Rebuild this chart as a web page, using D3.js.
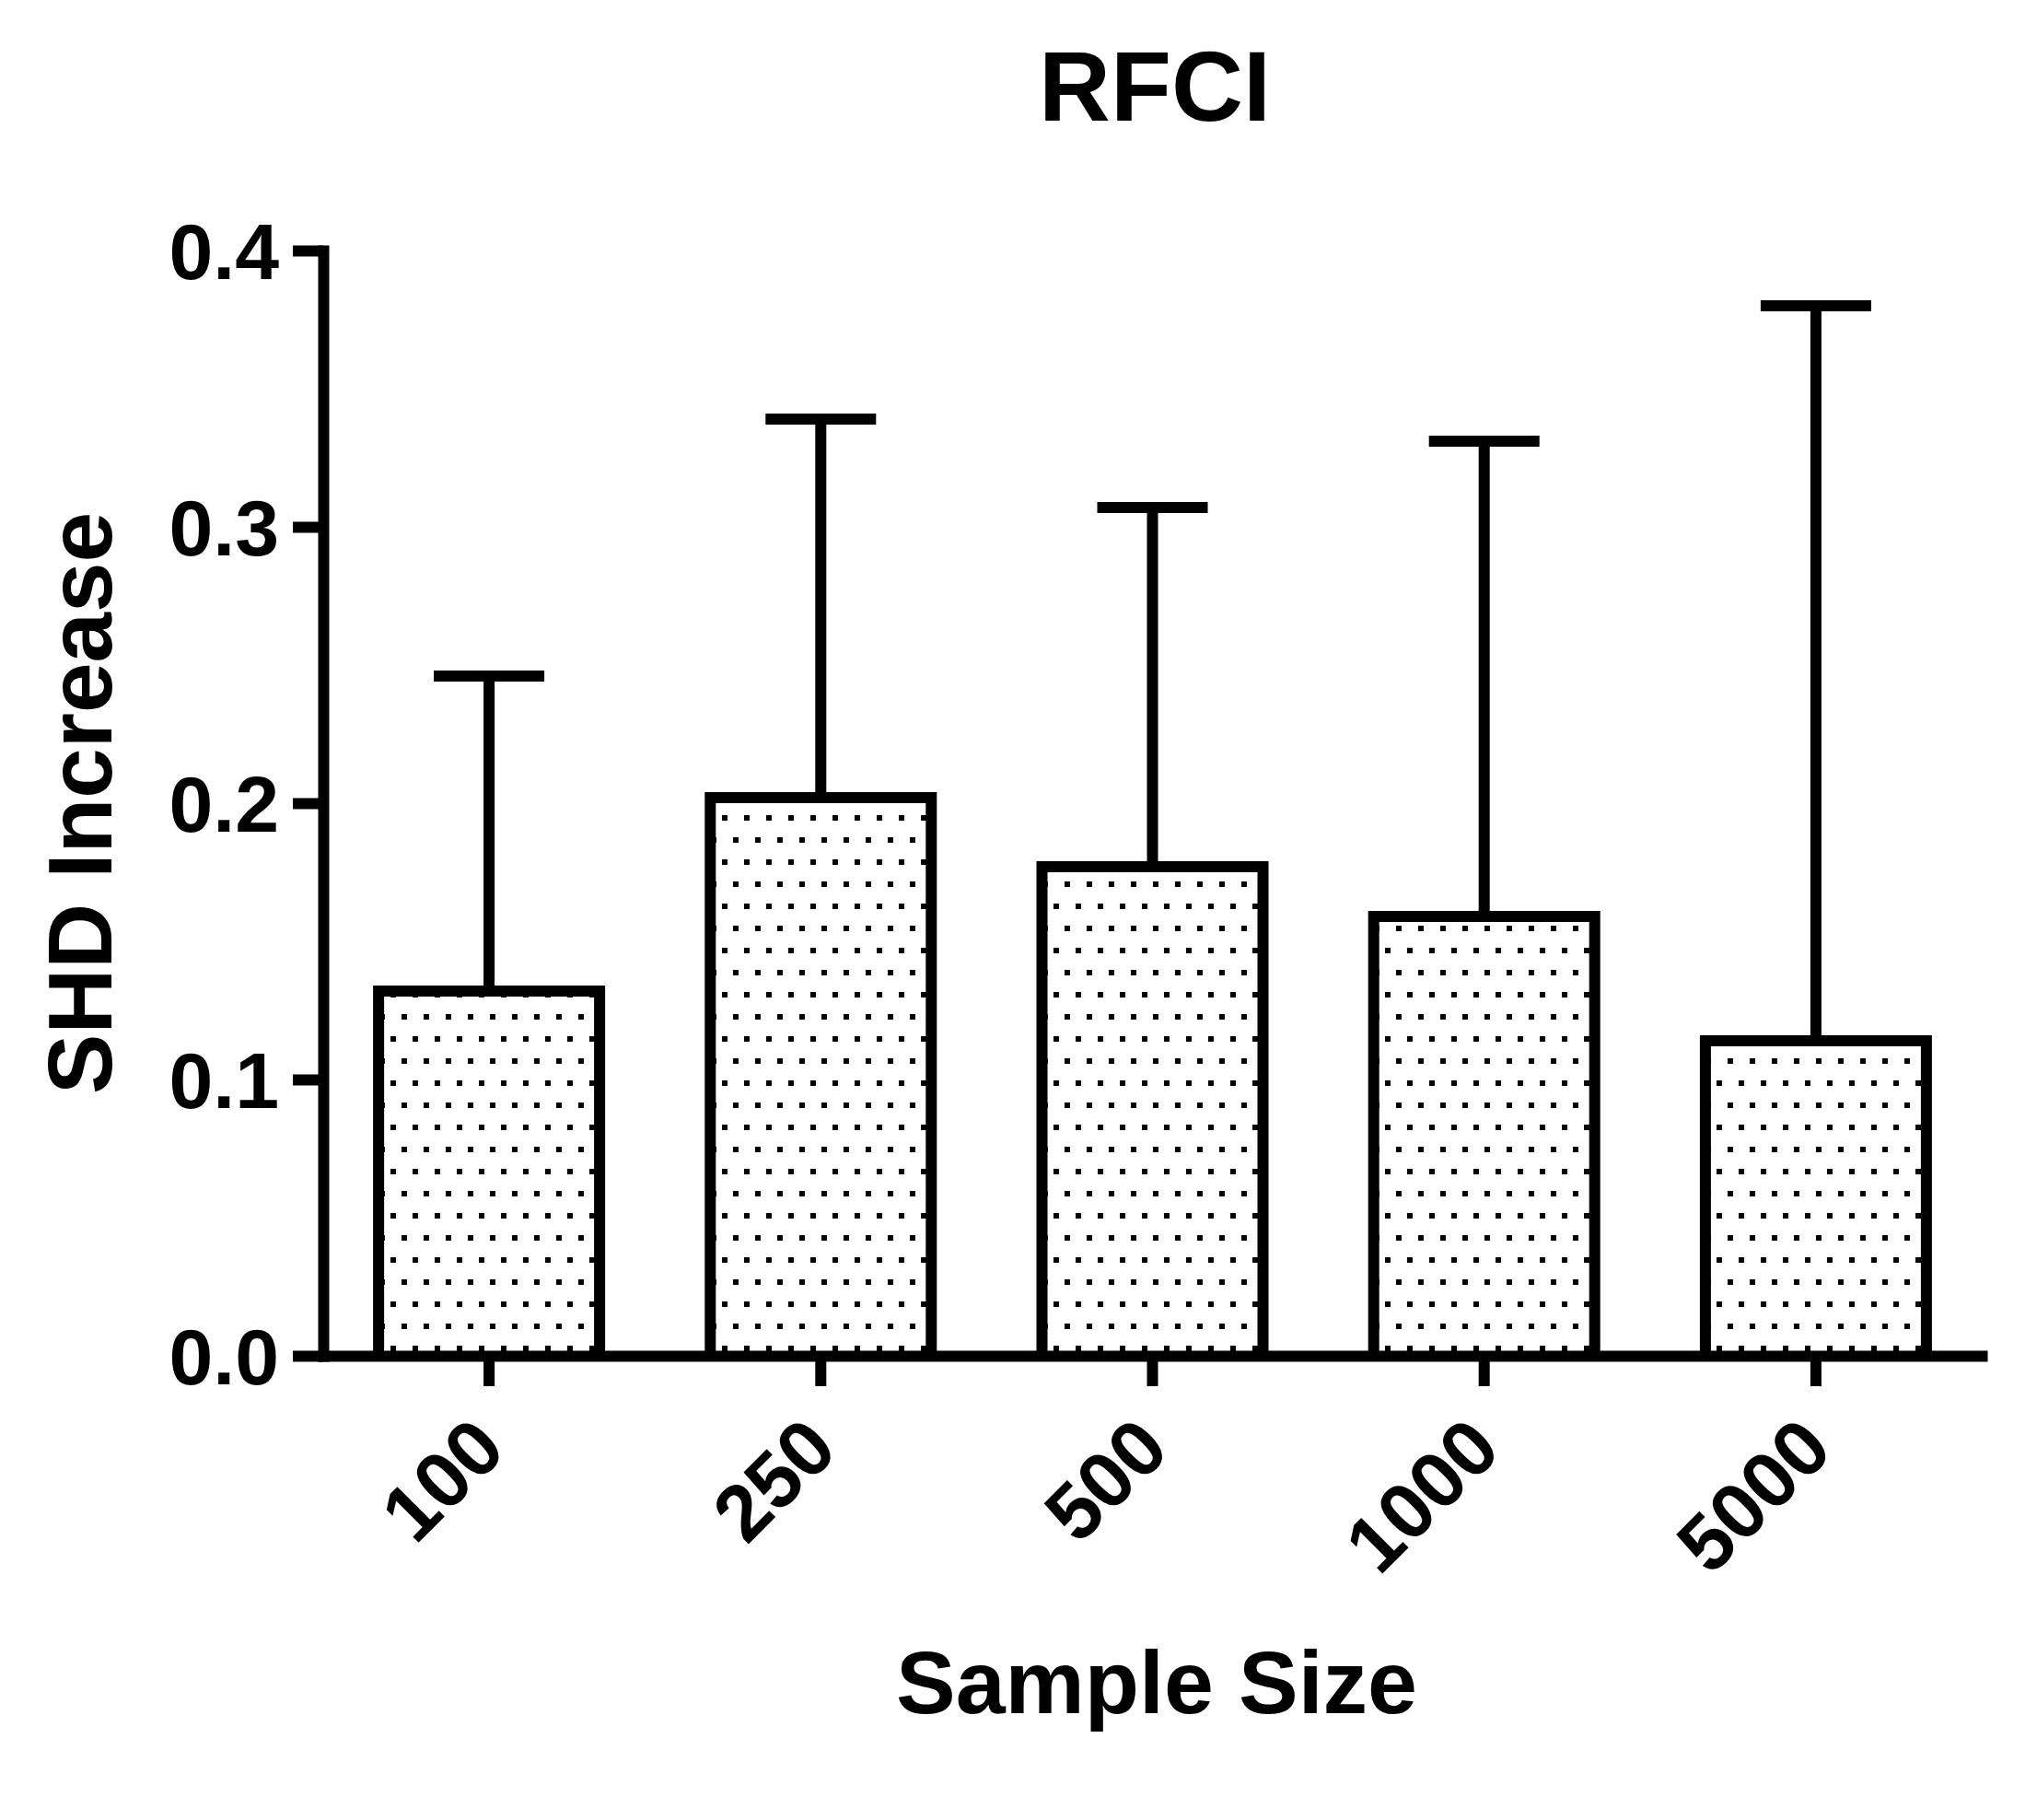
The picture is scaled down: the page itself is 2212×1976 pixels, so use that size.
<!DOCTYPE html>
<html>
<head>
<meta charset="utf-8">
<script src="https://cdn.jsdelivr.net/npm/d3@7"></script>
<style>
  body { margin: 0; background: #fff; }
  text { font-family: "Liberation Sans", Arial, sans-serif; font-weight: bold; fill: #000; }
</style>
</head>
<body>
<div id="chart"></div>
<script>
// RFCI bar chart, SHD increase per sample size (mean + upper SD bar)

const width = 2212;
const height = 1976;

const categories = ["100", "250", "500", "1000", "5000"];
const means = [0.132, 0.202, 0.177, 0.159, 0.114];
const upper = [0.246, 0.339, 0.307, 0.331, 0.380]; // top of error bar
const yTicks = [0.0, 0.1, 0.2, 0.3, 0.4];

const LINE = 12;
const BARW = 240;
const CAPW = 120;

const x = d3.scaleBand()
    .domain(categories)
    .range([351, 2152])
    .paddingInner(0.334)
    .paddingOuter(0.167);

const y = d3.scaleLinear()
    .domain([0, 0.4])
    .range([1472, 272]);

const svg = d3.select("#chart")
    .append("svg")
    .attr("width", width)
    .attr("height", height);

// dotted fill
const pat = svg.append("defs").append("pattern")
    .attr("id", "dots")
    .attr("patternUnits", "userSpaceOnUse")
    .attr("x", 436)
    .attr("y", 1437)
    .attr("width", 24)
    .attr("height", 48);
pat.append("rect").attr("x", 0).attr("y", 0).attr("width", 6).attr("height", 6).attr("fill", "#000");
pat.append("rect").attr("x", 12).attr("y", 24).attr("width", 6).attr("height", 6).attr("fill", "#000");

const cx = d => x(d) + x.bandwidth() / 2;

// error bars (drawn first so the bar outline sits on top)
const err = svg.append("g")
    .attr("stroke", "#000")
    .attr("stroke-width", LINE);

err.selectAll("line.v")
    .data(categories)
    .join("line")
    .attr("class", "v")
    .attr("x1", d => cx(d))
    .attr("x2", d => cx(d))
    .attr("y1", (d, i) => y(means[i]))
    .attr("y2", (d, i) => y(upper[i]));

err.selectAll("line.cap")
    .data(categories)
    .join("line")
    .attr("class", "cap")
    .attr("x1", d => cx(d) - CAPW / 2)
    .attr("x2", d => cx(d) + CAPW / 2)
    .attr("y1", (d, i) => y(upper[i]))
    .attr("y2", (d, i) => y(upper[i]));

// bars
svg.append("g").selectAll("rect")
    .data(categories)
    .join("rect")
    .attr("x", d => cx(d) - BARW / 2)
    .attr("y", (d, i) => y(means[i]))
    .attr("width", BARW)
    .attr("height", (d, i) => y(0) - y(means[i]))
    .attr("fill", "url(#dots)");

svg.append("g").selectAll("path")
    .data(categories)
    .join("path")
    .attr("fill", "none")
    .attr("stroke", "#000")
    .attr("stroke-width", LINE)
    .attr("d", (d, i) => {
        const p = d3.path();
        p.moveTo(cx(d) - BARW / 2, y(0));
        p.lineTo(cx(d) - BARW / 2, y(means[i]));
        p.lineTo(cx(d) + BARW / 2, y(means[i]));
        p.lineTo(cx(d) + BARW / 2, y(0));
        return p;
    });

// axes
const yAxis = svg.append("g")
    .attr("transform", "translate(351,0)")
    .call(d3.axisLeft(y).tickValues(yTicks).tickFormat(d3.format(".1f"))
        .tickSize(33).tickSizeOuter(0).tickPadding(15));

const xAxis = svg.append("g")
    .attr("transform", "translate(0,1472)")
    .call(d3.axisBottom(x).tickSize(33).tickSizeOuter(0));

[yAxis, xAxis].forEach(g => {
    g.select(".domain").attr("stroke", "#000").attr("stroke-width", LINE).attr("stroke-linecap", "square");
    g.selectAll(".tick line").attr("stroke", "#000").attr("stroke-width", LINE);
    g.attr("font-family", null).attr("font-size", null);
});

yAxis.selectAll(".tick text")
    .style("font-size", "86px")
    .attr("dy", "0.36em");

xAxis.selectAll(".tick text")
    .style("font-size", "86px")
    .attr("text-anchor", "end")
    .attr("y", null)
    .attr("dy", null)
    .attr("transform", "translate(21,105) rotate(-45)");

// titles
svg.append("text")
    .attr("x", 1254)
    .attr("y", 131)
    .attr("text-anchor", "middle")
    .style("font-size", "108px")
    .text("RFCI");

svg.append("text")
    .attr("x", 1256)
    .attr("y", 1860)
    .attr("text-anchor", "middle")
    .style("font-size", "97px")
    .text("Sample Size");

svg.append("text")
    .attr("transform", "translate(121,872) rotate(-90)")
    .attr("text-anchor", "middle")
    .style("font-size", "98px")
    .text("SHD Increase");
</script>
</body>
</html>
